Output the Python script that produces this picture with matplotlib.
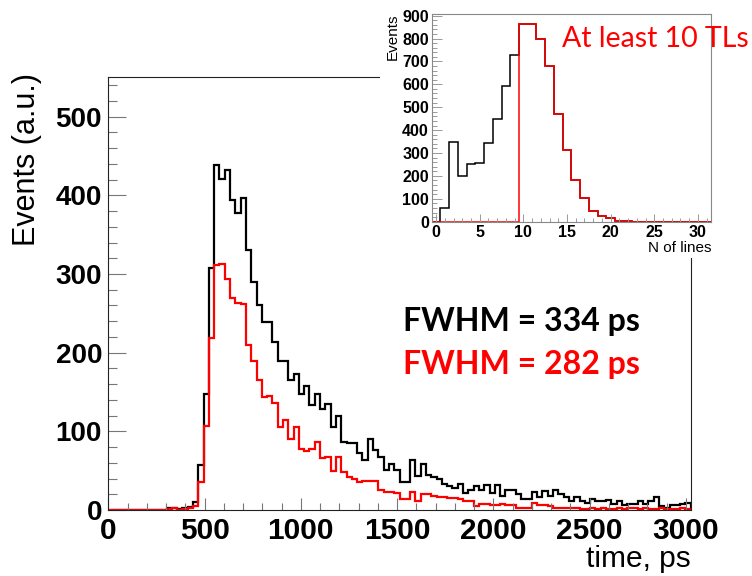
import numpy as np
import matplotlib
matplotlib.use("Agg")
import matplotlib.pyplot as plt
from matplotlib.ticker import MultipleLocator
from matplotlib import font_manager
from matplotlib.patches import Rectangle

# ---- main histogram: arrival time, 110 bins of 27.5 ps from 0 ps ----
time_start_ps = 0.0
time_bin_ps = 27.5
events_all = [
    0, 0, 0, 0, 0, 0, 0, 0, 0, 0,
    0, 2, 2, 1, 3, 4, 10, 57, 148, 308,
    438, 421, 432, 394, 378, 396, 331, 290, 261, 239,
    239, 213, 189, 189, 165, 173, 148, 158, 134, 148,
    129, 135, 106, 119, 86, 85, 85, 72, 64, 90,
    76, 68, 51, 58, 51, 36, 36, 64, 43, 59,
    45, 42, 39, 33, 30, 28, 33, 22, 25, 31,
    25, 32, 21, 32, 18, 25, 25, 20, 14, 14,
    23, 16, 24, 18, 25, 20, 16, 11, 17, 11,
    9, 14, 11, 12, 13, 8, 11, 6, 8, 8,
    11, 8, 11, 16, 5, 3, 6, 6, 8, 9,
]
events_10tl = [
    0, 0, 0, 0, 0, 0, 0, 0, 0, 0,
    0, 1, 2, 0, 1, 3, 5, 36, 107, 218,
    311, 313, 294, 269, 263, 262, 210, 189, 165, 144,
    145, 136, 106, 115, 90, 105, 77, 75, 78, 87,
    66, 68, 49, 68, 48, 42, 40, 36, 37, 37,
    37, 26, 23, 23, 21, 14, 14, 23, 11, 20,
    20, 18, 16, 16, 15, 15, 14, 12, 12, 5,
    8, 8, 6, 6, 8, 6, 6, 3, 3, 2,
    9, 6, 6, 5, 3, 3, 2, 3, 2, 1,
    1, 2, 1, 2, 1, 1, 2, 1, 3, 2,
    1, 3, 1, 1, 2, 1, 1, 1, 2, 1,
]

# ---- inset: number of lines per event, unit bins centred on 0..31 ----
nlines_start = -0.5
nlines_all = [0, 60, 350, 200, 253, 258, 342, 447, 594, 728,
              865, 862, 800, 681, 469, 313, 181, 105, 47, 25,
              15, 3, 3, 0, 0, 0, 0, 0, 0, 0, 0, 0]
nlines_10tl = [0, 0, 0, 0, 0, 0, 0, 0, 0, 0,
               865, 862, 800, 681, 469, 313, 181, 105, 47, 25,
               15, 3, 3, 0, 0, 0, 0, 0, 0, 0, 0, 0]

fwhm_all_ps = 334
fwhm_10tl_ps = 282

RED = "#ff0000"
available = {f.name for f in font_manager.fontManager.ttflist}
SANS = "Liberation Sans"
NARROW = "Liberation Sans Narrow" if "Liberation Sans Narrow" in available else None
CAL = "Lato"

W, H = 752, 576
fig = plt.figure(figsize=(W / 100, H / 100), dpi=100)
fig.patch.set_facecolor("white")


def fx(px):
    return px / W


def fy(py):
    return 1 - py / H


# ---------------- main axes ----------------
ax = fig.add_axes([fx(108.3), fy(510), fx(690.7) - fx(108.3), fy(77.3) - fy(510)])
t_edges = time_start_ps + time_bin_ps * np.arange(len(events_all) + 1)
ax.stairs(events_all, t_edges, baseline=0, color="black", lw=1.6)
ax.stairs(events_10tl, t_edges, baseline=0, color=RED, lw=1.6)
ax.set_xlim(0, 3025)
ax.set_ylim(0, 550)

for s in ax.spines.values():
    s.set_color("#222222")
    s.set_linewidth(0.8)
ax.xaxis.set_major_locator(MultipleLocator(500))
ax.xaxis.set_minor_locator(MultipleLocator(100))
ax.yaxis.set_major_locator(MultipleLocator(100))
ax.yaxis.set_minor_locator(MultipleLocator(20))
ax.tick_params(axis="y", which="major", direction="in", length=13, width=0.8,
               color="#777777", pad=4.5)
ax.tick_params(axis="y", which="minor", direction="in", length=6.5, width=0.8,
               color="#777777")
ax.tick_params(axis="x", which="major", direction="in", length=9, width=0.8,
               color="#777777", pad=5)
ax.tick_params(axis="x", which="minor", direction="in", length=5, width=0.8,
               color="#777777")
ax.tick_params(top=False, right=False, which="both")
for lab in ax.get_yticklabels():
    lab.set_fontfamily(SANS)
    lab.set_fontweight("bold")
    lab.set_fontsize(20)
for lab in ax.get_xticklabels():
    if NARROW:
        lab.set_fontfamily(NARROW)
        lab.set_fontsize(26)
    else:
        lab.set_fontfamily(SANS)
        lab.set_fontsize(21.5)
    lab.set_fontweight("bold")

fig.text(fx(27.5), fy(73), "Events (a.u.)", rotation=90, ha="center", va="top",
         fontsize=22, family=SANS)
fig.text(fx(691), fy(567), "time, ps", ha="right", va="baseline",
         fontsize=21.5, family=SANS)

fig.text(fx(403.3), fy(330.7), f"FWHM = {fwhm_all_ps} ps", ha="left",
         va="baseline", fontsize=23, family=CAL, fontweight="bold", color="black")
fig.text(fx(403.3), fy(374), f"FWHM = {fwhm_10tl_ps} ps", ha="left",
         va="baseline", fontsize=23, family=CAL, fontweight="bold", color=RED)

# ---------------- inset ----------------
fig.patches.append(Rectangle((fx(380), fy(258)), fx(752) - fx(380), fy(0) - fy(258),
                             transform=fig.transFigure, facecolor="white",
                             edgecolor="none", zorder=1))
axi = fig.add_axes([fx(431.7), fy(221.7), fx(711) - fx(431.7), fy(14) - fy(221.7)],
                   zorder=2)
n_edges = nlines_start + np.arange(len(nlines_all) + 1)
axi.stairs(nlines_all, n_edges, baseline=0, color="black", lw=1.1)
axi.stairs(nlines_10tl, n_edges, baseline=0, color=RED, lw=1.1)
axi.set_xlim(-0.5, 31.5)
axi.set_ylim(0, 907)
for s in axi.spines.values():
    s.set_color("#888888")
    s.set_linewidth(0.8)
axi.xaxis.set_major_locator(MultipleLocator(5))
axi.xaxis.set_minor_locator(MultipleLocator(1))
axi.yaxis.set_major_locator(MultipleLocator(100))
axi.yaxis.set_minor_locator(MultipleLocator(20))
axi.tick_params(axis="both", which="both", direction="in", color="#999999", width=0.7,
                top=False, right=False)
axi.tick_params(axis="y", which="major", length=7, pad=2)
axi.tick_params(axis="y", which="minor", length=3.5)
axi.tick_params(axis="x", which="major", length=6, pad=2.5)
axi.tick_params(axis="x", which="minor", length=3)
for lab in axi.get_xticklabels() + axi.get_yticklabels():
    lab.set_fontfamily(SANS)
    lab.set_fontweight("bold")
    lab.set_fontsize(11.5)

fig.text(fx(393), fy(13), "Events", rotation=90, ha="center", va="top",
         fontsize=11, family=SANS, zorder=3)
fig.text(fx(711), fy(252), "N of lines", ha="right", va="baseline",
         fontsize=11, family=SANS, zorder=3)
fig.text(fx(561.7), fy(46.7), "At least 10 TLs", ha="left", va="baseline",
         fontsize=20.5, family=CAL, color=RED, zorder=3)

fig.savefig("out.png", dpi=100)
